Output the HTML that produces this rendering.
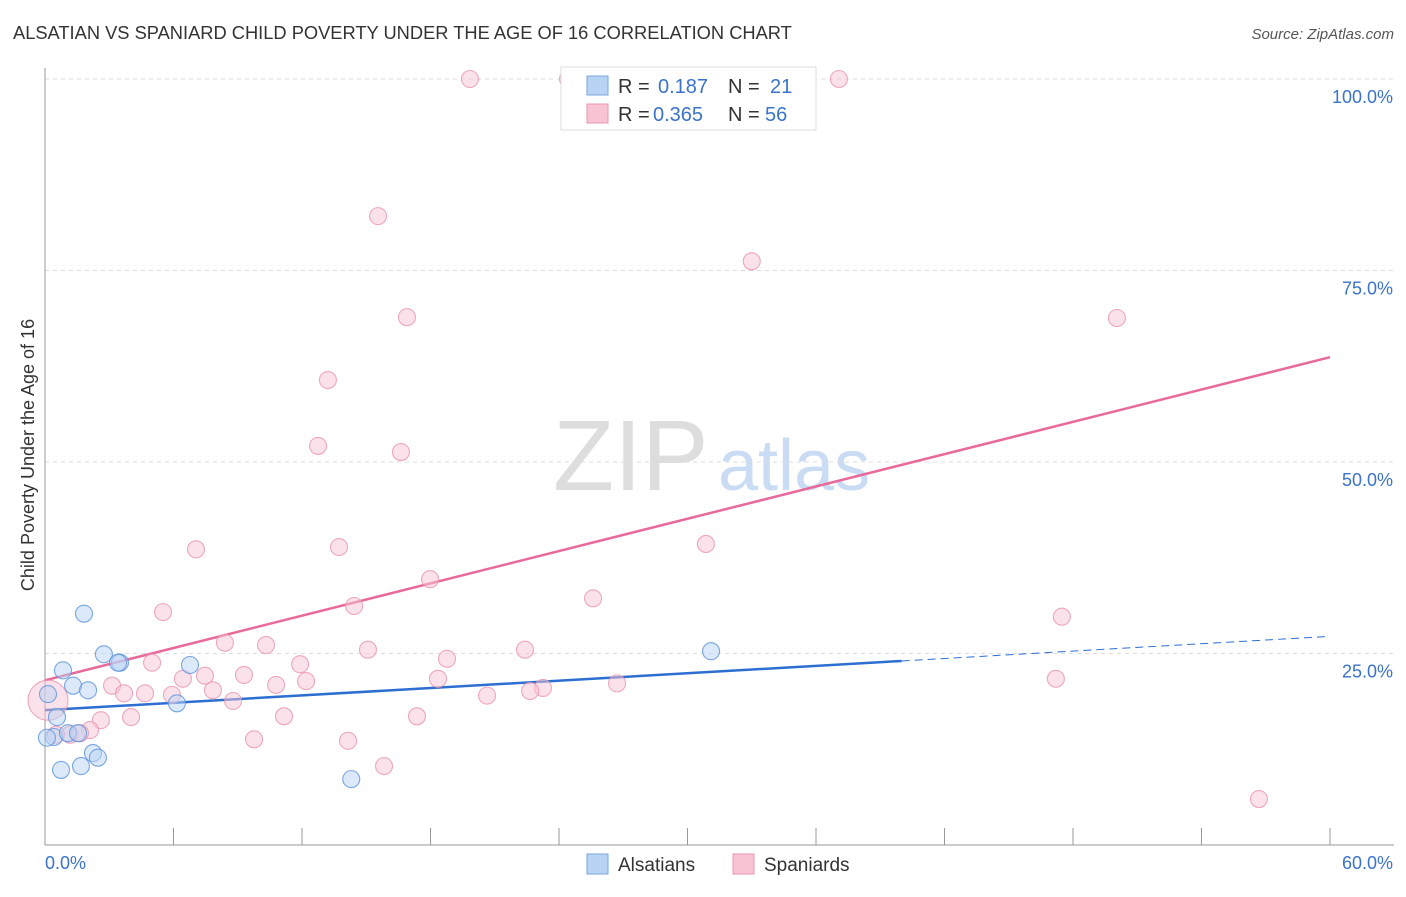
<!DOCTYPE html>
<html><head><meta charset="utf-8"><style>
body{margin:0;background:#fff;font-family:"Liberation Sans",sans-serif;}
svg text{font-family:"Liberation Sans",sans-serif;}
</style></head><body>
<svg id="chart" width="1406" height="892">
<text x="13" y="39" font-size="18.3" fill="#333">ALSATIAN VS SPANIARD CHILD POVERTY UNDER THE AGE OF 16 CORRELATION CHART</text>
<text x="1394" y="39" font-size="15" fill="#555" text-anchor="end" font-style="italic">Source: ZipAtlas.com</text>
<text x="553" y="490" font-size="100" fill="#ddd" font-family="Liberation Serif">ZIP</text>
<text x="718" y="490" font-size="72" fill="#c9dcf3">atlas</text>
<text transform="translate(34,455) rotate(-90)" font-size="18" fill="#333" text-anchor="middle">Child Poverty Under the Age of 16</text>
<g id="grid"></g><g id="axes"></g><g id="lines"></g><g id="pts"></g>
<g>
<rect x="561" y="67" width="255" height="63" fill="#fff" stroke="#ddd"/>
<rect x="587" y="76" width="21" height="19" fill="#b9d3f5" stroke="#7aa7e0"/>
<rect x="587" y="104" width="21" height="19" fill="#f8c4d4" stroke="#e995b0"/>
<text x="618" y="93" font-size="20" fill="#333">R = </text><text x="658" y="93" font-size="20" fill="#3a73c9">0.187</text>
<text x="728" y="93" font-size="20" fill="#333">N = </text><text x="770" y="93" font-size="20" fill="#3a73c9">21</text>
<text x="618" y="121" font-size="20" fill="#333">R = </text><text x="653" y="121" font-size="20" fill="#3a73c9">0.365</text>
<text x="728" y="121" font-size="20" fill="#333">N = </text><text x="765" y="121" font-size="20" fill="#3a73c9">56</text>
</g>
<g>
<rect x="587" y="854" width="21" height="20" fill="#b9d3f5" stroke="#7aa7e0"/>
<text x="618" y="871" font-size="19" fill="#333">Alsatians</text>
<rect x="733" y="854" width="21" height="20" fill="#f8c4d4" stroke="#e995b0"/>
<text x="764" y="871" font-size="19" fill="#333">Spaniards</text>
</g>
</svg>
<script>
const xTicks=[0,6,12,18,24,30,36,42,48,54,60];
const yTicks=[25,50,75,100];
const yTickLabels=["25.0%","50.0%","75.0%","100.0%"];
const blueX=[1.82,2.75,3.50,3.41,6.77,0.84,1.31,2.01,0.14,0.56,0.42,1.07,1.54,2.24,2.47,1.68,0.75,6.16,31.1,14.3,0.09];
const blueY=[30.2,24.9,23.8,23.8,23.5,22.8,20.8,20.2,19.7,16.7,14.1,14.6,14.6,12.0,11.4,10.3,9.8,18.5,25.3,8.6,14.0];
const pinkX=[19.84,24.42,32.5,37.07,15.55,33.0,16.9,50.05,13.21,12.75,16.62,7.05,13.73,30.86,17.98,25.59,5.51,14.43,47.48,8.40,10.32,5.0,15.08,22.41,11.91,18.77,6.44,7.47,9.29,3.13,4.67,5.93,3.69,7.84,12.19,10.79,18.35,26.71,47.2,23.25,22.65,20.64,8.78,4.02,2.61,11.16,17.37,2.10,1.17,1.63,9.76,14.15,15.83,56.68,0.51,0.14];
const pinkY=[100,100,100,100,82.1,76.2,68.9,68.8,60.7,52.1,51.3,38.6,38.9,39.3,34.7,32.2,30.4,31.2,29.8,26.4,26.1,23.8,25.5,25.5,23.6,24.3,21.7,22.1,22.2,20.8,19.8,19.6,19.8,20.2,21.4,20.9,21.7,21.1,21.7,20.5,20.1,19.5,18.8,16.7,16.3,16.8,16.8,15.0,14.4,14.6,13.8,13.6,10.3,6.0,14.4,18.9];
const blueTrend=[17.6,0.1607];
const pinkTrend=[21.5,0.703];
const NS="http://www.w3.org/2000/svg";
const X=v=>45+v*1285/60, Y=v=>845-v*7.66;
function mk(p,t,a){const e=document.createElementNS(NS,t);for(const k in a)e.setAttribute(k,a[k]);document.getElementById(p).appendChild(e);return e;}
yTicks.forEach((t,i)=>{
 const g=mk('grid','line',{x1:45,x2:1394,y1:Y(t),y2:Y(t),stroke:'#ddd','stroke-dasharray':'4,4'});
 
 
 const l=mk('grid','text',{x:1393,y:Y(t)+24,'font-size':18,fill:'#3a73c9','text-anchor':'end'});
 l.textContent=yTickLabels[i];
 
 
});
mk('axes','line',{x1:45,x2:45,y1:68,y2:845,stroke:'#999'});
mk('axes','line',{x1:45,x2:1394,y1:845,y2:845,stroke:'#999'});
xTicks.forEach(t=>{const e=mk('axes','line',{x1:X(t),x2:X(t),y1:828,y2:845,stroke:'#999'});
 
 
});
const x0=mk('axes','text',{x:45,y:869,'font-size':18,fill:'#3a73c9'});x0.textContent='0.0%';


const x1=mk('axes','text',{x:1393,y:869,'font-size':18,fill:'#3a73c9','text-anchor':'end'});x1.textContent='60.0%';


function pts(xs,ys,fill,stroke,name){xs.forEach((v,i)=>{const big=(v<0.2&&name==='pink');
 const c=mk('pts','circle',{cx:X(v),cy:Y(ys[i]),r:big?20:8.5,fill:fill,'fill-opacity':0.5,stroke:stroke,'stroke-width':1.1,'stroke-opacity':0.8});
 
 });}
pts(pinkX,pinkY,'#f8c4d4','#e995b0','pink');
pts(blueX,blueY,'#b9d3f5','#5b92da','blue');
const pl=mk('lines','line',{x1:X(0),y1:Y(pinkTrend[0]),x2:X(60),y2:Y(pinkTrend[0]+60*pinkTrend[1]),stroke:'#e8699a','stroke-width':2.5});


const bl=mk('lines','line',{x1:X(0),y1:Y(blueTrend[0]),x2:X(40),y2:Y(blueTrend[0]+40*blueTrend[1]),stroke:'#2c6fd1','stroke-width':2.5});


const bd=mk('lines','line',{x1:X(40),y1:Y(blueTrend[0]+40*blueTrend[1]),x2:X(60),y2:Y(blueTrend[0]+60*blueTrend[1]),stroke:'#2c6fd1','stroke-width':1,'stroke-dasharray':'8,5'});


</script>
</body></html>
